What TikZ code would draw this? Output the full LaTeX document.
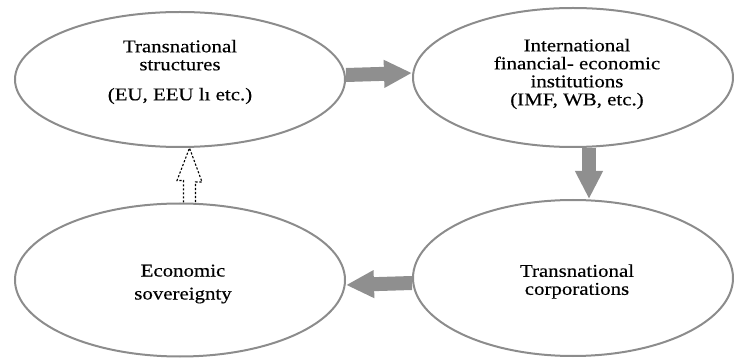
\documentclass[tikz,border=0pt]{standalone}
\usepackage{fontspec}
\setmainfont{Liberation Serif}[FakeStretch=1.16, FakeBold=0.4]
\usepackage{tikz}
\usetikzlibrary{arrows.meta, calc, shapes.geometric}

\definecolor{rimgray}{RGB}{140,140,140}
\definecolor{flowgray}{RGB}{143,143,143}

\begin{document}
\begin{tikzpicture}
    [x=1pt, y=-1pt,
     font=\fontsize{18}{18}\selectfont,
     oval/.style={draw=rimgray, line width=2pt, ellipse, inner sep=0pt},
     caption/.style={align=center, inner sep=0pt},
     flow/.style={draw=flowgray, line width=14pt,
                  -{Triangle[width=26pt, length=28pt]}},
     hollow/.style={draw=black, line width=1.1pt, dash pattern=on 2.2pt off 1.8pt},
    ]
    \useasboundingbox (0, 0) rectangle (734, 358);

    % Ovals
    \node[oval, minimum width=330pt, minimum height=135pt] (ts)  at (180, 79.5) {};
    \node[oval, minimum width=320pt, minimum height=139pt] (ifi) at (573, 77.5) {};
    \node[oval, minimum width=330pt, minimum height=153pt] (es)  at (180, 280) {};
    \node[oval, minimum width=320pt, minimum height=156pt] (tc)  at (573, 278) {};

    % Texts
    \node[caption] (tstext)  at (180, 72)
        {Transnational\\structures\\[12pt](EU, EEU lı etc.)};
    \node[caption] (ifitext) at (577, 74)
        {International\\financial- economic\\institutions\\(IMF, WB, etc.)};
    \node[caption] (estext)  at (183, 284) {Economic\\[5pt]sovereignty};
    \node[caption] (tctext)  at (577, 281.5) {Transnational\\corporations};

    % Bold arrows
    \foreach \from / \fa / \to / \ta / \sx / \sy in
             {ts/east/ifi/west/0/4.5, ifi/south/tc/north/16/0,
              tc/west/es/east/0/-5} {
        \draw[flow] ([xshift=\sx pt, yshift=\sy pt]\from.\fa)
            -- ([xshift=\sx pt, yshift=\sy pt]\to.\ta);
    }

    % Dashed hollow arrow
    \coordinate (db) at ([xshift=9.5pt]es.north);
    \coordinate (dt) at ([xshift=9.5pt]ts.south);
    \draw[hollow] ($(db)+(-6,0)$) -- ++(0,-22) -- ++(-6.5,0) -- (dt)
        -- ++(12.5,34) -- ++(-6.5,0) -- ++(0,22);
\end{tikzpicture}
\end{document}
